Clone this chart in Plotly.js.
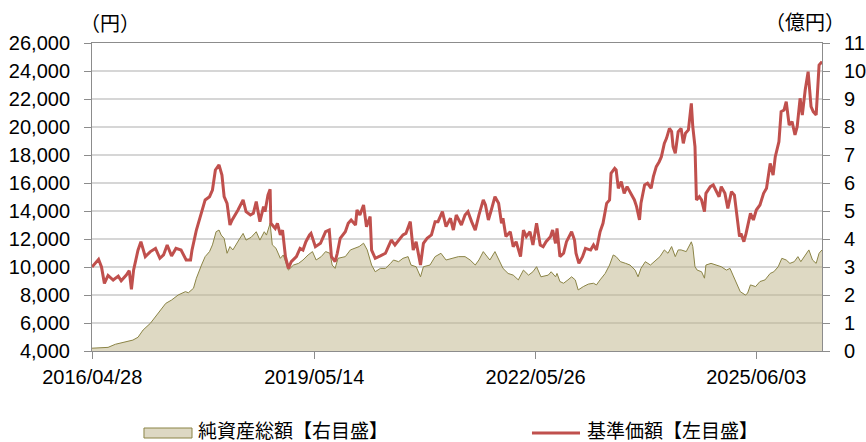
<!DOCTYPE html>
<html>
<head>
<meta charset="utf-8">
<script src="https://cdn.plot.ly/plotly-3.0.1.min.js"></script>
<style>html,body{margin:0;padding:0;background:#fff}#chart{width:866px;height:442px}</style>
</head>
<body>
<div id="chart"></div>
<script>
// Time in decimal years
const navX = [2016.32,2016.41,2016.45,2016.49,2016.54,2016.61,2016.68,2016.72,2016.79,2016.83,
2016.86,2016.89,2016.95,2016.99,2017.05,2017.12,2017.19,2017.25,2017.30,2017.35,
2017.41,2017.47,2017.54,2017.61,2017.67,2017.69,2017.75,2017.82,2017.87,2017.93,
2017.97,2018.01,2018.06,2018.10,2018.13,2018.17,2018.21,2018.24,2018.28,2018.32,
2018.39,2018.43,2018.49,2018.53,2018.57,2018.62,2018.67,2018.69,2018.73,2018.76,
2018.77,2018.83,2018.86,2018.90,2018.93,2018.97,2019.01,2019.05,2019.12,2019.17,
2019.21,2019.25,2019.30,2019.32,2019.38,2019.45,2019.49,2019.52,2019.57,2019.60,
2019.65,2019.68,2019.72,2019.79,2019.83,2019.87,2019.93,2019.95,2019.99,2020.04,
2020.08,2020.13,2020.15,2020.20,2020.27,2020.34,2020.38,2020.42,2020.47,2020.54,
2020.58,2020.62,2020.68,2020.72,2020.76,2020.82,2020.86,2020.91,2020.97,2021.02,
2021.06,2021.12,2021.17,2021.23,2021.27,2021.31,2021.38,2021.43,2021.47,2021.52,
2021.57,2021.62,2021.68,2021.71,2021.75,2021.79,2021.84,2021.89,2021.93,2021.95,
2021.99,2022.05,2022.09,2022.13,2022.19,2022.23,2022.27,2022.32,2022.36,2022.41,
2022.46,2022.50,2022.54,2022.60,2022.63,2022.67,2022.69,2022.73,2022.78,2022.82,
2022.89,2022.93,2022.95,2022.99,2023.04,2023.08,2023.15,2023.19,2023.23,2023.28,
2023.32,2023.37,2023.41,2023.43,2023.48,2023.50,2023.53,2023.57,2023.61,2023.65,
2023.71,2023.75,2023.78,2023.82,2023.84,2023.89,2023.93,2023.98,2024.01,2024.05,
2024.09,2024.12,2024.16,2024.19,2024.23,2024.26,2024.28,2024.31,2024.35,2024.39,
2024.42,2024.45,2024.49,2024.53,2024.55,2024.58,2024.60,2024.64,2024.67,2024.71,
2024.73,2024.79,2024.83,2024.87,2024.91,2024.94,2024.99,2025.03,2025.08,2025.12,
2025.15,2025.19,2025.21,2025.25,2025.28,2025.34,2025.38,2025.42,2025.47,2025.52,
2025.56,2025.61,2025.65,2025.68,2025.73,2025.76,2025.80,2025.83,2025.87,2025.91,
2025.95,2025.98,2026.02,2026.05,2026.09,2026.13,2026.17,2026.20,2026.24,2026.27,
2026.28,2026.32];
const navValues = [10000,10550,10000,8830,9400,9070,9350,9020,9430,9740,
8400,9790,11200,11810,10740,11100,11330,10620,10860,11570,
10790,11330,11210,10500,10500,11210,12640,13830,14790,15020,
15500,16930,17290,16570,15020,14550,13000,13360,13710,14070,
14790,13950,13710,13830,14670,13240,14310,13950,15140,15550,
13120,12760,13120,12290,12640,10740,9900,10380,10740,11330,
11210,11810,12290,12400,11450,11690,12170,12520,12640,10740,
10380,10980,12050,12520,13120,13360,13000,14070,13710,14430,
12880,13600,11210,10620,10790,10980,11450,11930,11570,12050,
12290,12400,13240,11210,11810,10140,11690,12050,12290,13240,
13240,13950,12880,13480,12640,13710,13000,13710,13950,13240,
12640,13710,14790,14430,13360,14070,15020,14550,13120,13480,
12170,12520,11450,11810,10740,12640,12170,12520,11570,13120,
11570,11450,11810,12170,12640,11690,12760,10740,10980,11810,
12520,11930,10980,10260,10740,11330,11210,11570,11210,12520,
13120,14550,14790,16690,17050,16930,15620,16100,15260,15740,
15140,14790,14310,13360,14550,15860,15980,15620,16450,17170,
17520,17880,18830,19190,19900,19670,18600,18120,19670,19900,
18830,19550,19790,21690,20020,18600,14790,15020,14790,13950,
15260,15740,15860,15380,15020,15740,15260,14190,15380,15140,
13830,12170,12400,11810,12400,13830,13360,14070,14430,15260,
15620,17400,16570,17880,18950,21100,21210,21810,20140,20380,
19430,20020,22050,20860,22640,23950,21450,21100,20860,23830,
24430,24670];

const assetX = [2016.32,2016.54,2016.64,2016.77,2016.88,2016.95,2017.02,2017.12,2017.19,2017.25,
2017.33,2017.41,2017.50,2017.60,2017.64,2017.71,2017.75,2017.82,2017.87,2017.93,
2017.97,2018.02,2018.06,2018.09,2018.13,2018.17,2018.21,2018.25,2018.30,2018.34,
2018.39,2018.43,2018.50,2018.57,2018.62,2018.68,2018.71,2018.76,2018.79,2018.84,
2018.90,2018.94,2019.01,2019.08,2019.15,2019.21,2019.28,2019.34,2019.39,2019.46,
2019.52,2019.58,2019.61,2019.65,2019.69,2019.79,2019.86,2019.93,2019.98,2020.04,
2020.09,2020.15,2020.20,2020.27,2020.34,2020.41,2020.45,2020.52,2020.58,2020.65,
2020.69,2020.76,2020.82,2020.86,2020.95,2021.02,2021.10,2021.17,2021.24,2021.34,
2021.43,2021.50,2021.57,2021.62,2021.68,2021.72,2021.77,2021.84,2021.91,2021.95,
2022.02,2022.09,2022.16,2022.23,2022.30,2022.36,2022.41,2022.47,2022.57,2022.61,
2022.67,2022.69,2022.73,2022.78,2022.84,2022.89,2022.94,2022.98,2023.05,2023.12,
2023.19,2023.23,2023.28,2023.35,2023.41,2023.46,2023.50,2023.56,2023.63,2023.69,
2023.76,2023.80,2023.84,2023.90,2023.97,2024.04,2024.10,2024.16,2024.21,2024.26,
2024.31,2024.35,2024.39,2024.46,2024.53,2024.55,2024.58,2024.61,2024.67,2024.71,
2024.73,2024.80,2024.87,2024.94,2025.01,2025.06,2025.10,2025.15,2025.20,2025.27,
2025.30,2025.34,2025.41,2025.47,2025.54,2025.61,2025.66,2025.72,2025.77,2025.83,
2025.88,2025.94,2025.99,2026.03,2026.09,2026.14,2026.19,2026.24,2026.28,2026.32];
const assetValues = [0.10,0.13,0.24,0.33,0.39,0.49,0.75,0.99,1.23,1.46,
1.70,1.82,2.00,2.12,2.08,2.24,2.60,3.07,3.37,3.55,
3.79,4.26,4.32,4.14,4.02,3.49,3.73,3.61,3.85,4.00,
4.20,3.96,4.06,4.26,3.96,4.26,4.14,4.56,3.79,3.67,
3.31,3.43,2.89,3.07,3.13,3.25,3.43,3.55,3.25,3.37,
3.55,3.49,3.07,2.95,3.31,3.37,3.61,3.67,3.73,3.85,
3.61,3.07,2.83,2.95,2.95,3.13,3.25,3.19,3.31,3.37,
3.07,3.01,2.65,3.01,3.07,3.37,3.49,3.25,3.31,3.37,
3.37,3.25,3.07,3.25,3.55,3.43,3.25,3.55,3.13,2.95,
2.77,2.71,2.54,2.89,2.71,2.83,3.01,2.65,2.71,2.83,
2.65,2.77,2.48,2.42,2.54,2.65,2.54,2.18,2.30,2.39,
2.42,2.36,2.54,2.77,3.07,3.43,3.37,3.19,3.13,3.07,
2.89,2.65,2.95,3.19,3.07,3.25,3.37,3.61,3.49,3.73,
3.37,3.61,3.61,3.55,3.90,3.73,3.01,2.89,2.83,2.60,
3.07,3.13,3.07,3.01,2.89,2.95,2.71,2.42,2.12,2.00,
2.06,2.36,2.30,2.48,2.54,2.77,2.83,3.01,3.31,3.25,
3.13,3.19,3.37,3.19,3.43,3.61,3.25,3.13,3.49,3.61];

const tickDates = [2016.323, 2019.364, 2022.397, 2025.419];
const tickLabels = ['2016/04/28', '2019/05/14', '2022/05/26', '2025/06/03'];
const assetName = '純資産総額【右目盛】';
const navName = '基準価額【左目盛】';

const numFont = {family: 'Liberation Sans, Arial, sans-serif', size: 20, color: '#000'};
const jpFont = {family: 'Noto Sans CJK JP, sans-serif', size: 19, color: '#000'};
const unitFont = {family: 'Noto Sans CJK JP, sans-serif', size: 20, color: '#000'};

const traces = [
  {x: assetX, y: assetValues, name: assetName, type: 'scatter', mode: 'lines',
   yaxis: 'y', fill: 'tozeroy', fillcolor: 'rgba(190,180,136,0.5)',
   line: {color: '#8b8446', width: 1}},
  {x: navX, y: navValues, name: navName, type: 'scatter', mode: 'lines',
   yaxis: 'y2', line: {color: '#c0504d', width: 3}}
];

const axisLine = '#8c8c8c';
const layout = {
  width: 866, height: 442,
  margin: {l: 92, r: 44, t: 43, b: 91},
  paper_bgcolor: '#fff', plot_bgcolor: '#fff',
  showlegend: false,
  font: numFont,
  xaxis: {range: [2016.32, 2026.32], tickvals: tickDates, ticktext: tickLabels,
    ticks: 'outside', ticklen: 7, tickcolor: axisLine, showline: true, mirror: true,
    linecolor: axisLine, linewidth: 1, showgrid: false, zeroline: false,
    tickfont: numFont, ticklabelstandoff: 1},
  yaxis: {side: 'right', range: [0, 11], dtick: 1, tick0: 0,
    ticks: 'outside', ticklen: 7, tickcolor: axisLine, showline: true,
    linecolor: axisLine, linewidth: 1, showgrid: true, gridcolor: '#d6d6d6', gridwidth: 1.5,
    zeroline: false, tickfont: numFont, ticklabelstandoff: 10},
  yaxis2: {side: 'left', overlaying: 'y', range: [4000, 26000], dtick: 2000, tick0: 4000,
    tickformat: ',d', ticks: 'outside', ticklen: 7, tickcolor: axisLine, showline: true,
    linecolor: axisLine, linewidth: 1, showgrid: false, zeroline: false,
    tickfont: numFont, ticklabelstandoff: 10},
  annotations: [
    {text: '（円）', xref: 'paper', yref: 'paper', x: 0.0247, y: 1.068,
     xanchor: 'center', yanchor: 'middle', showarrow: false, font: unitFont},
    {text: '（億円）', xref: 'paper', yref: 'paper', x: 0.9767, y: 1.071,
     xanchor: 'center', yanchor: 'middle', showarrow: false, font: unitFont},
    {text: assetName, xref: 'paper', yref: 'paper', x: 0.1425, y: -0.2558,
     xanchor: 'left', yanchor: 'middle', showarrow: false, font: jpFont},
    {text: navName, xref: 'paper', yref: 'paper', x: 0.675, y: -0.2558,
     xanchor: 'left', yanchor: 'middle', showarrow: false, font: jpFont}
  ],
  shapes: [
    {type: 'rect', xref: 'paper', yref: 'paper', x0: 0.0712, x1: 0.137, y0: -0.25, y1: -0.2825,
     fillcolor: '#ddd8c3', line: {color: '#8b8446', width: 1}},
    {type: 'line', xref: 'paper', yref: 'paper', x0: 0.6027, x1: 0.6685, y0: -0.2662, y1: -0.2662,
     line: {color: '#c0504d', width: 3}}
  ]
};

Plotly.newPlot('chart', traces, layout, {displayModeBar: false, staticPlot: true});
</script>
</body>
</html>
